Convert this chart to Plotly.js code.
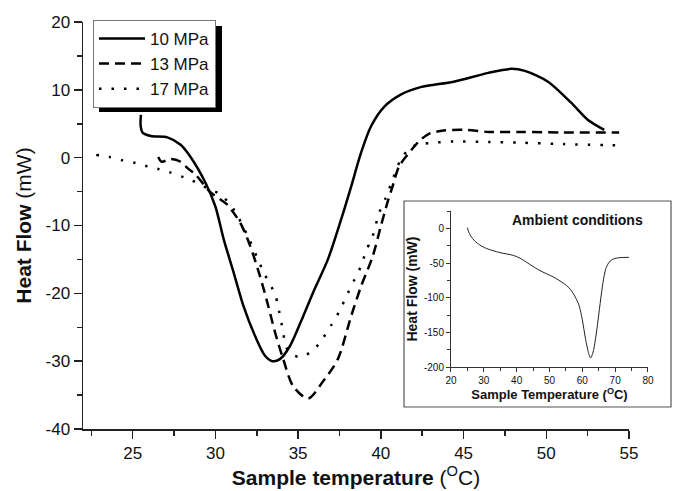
<!DOCTYPE html>
<html>
<head>
<meta charset="utf-8">
<script src="https://cdn.plot.ly/plotly-3.0.1.min.js"></script>
<style>html,body{margin:0;padding:0;background:#fff;}#chart{width:673px;height:491px;}</style>
</head>
<body>
<div id="chart"></div>
<script>
// ---- Data ----
const seriesNames = ["10 MPa", "13 MPa", "17 MPa"];

const t10 = [25.5, 25.48, 25.6, 26.1, 27.1, 27.9, 28.5, 29.4, 30.0, 30.5, 31.1, 31.7, 32.4, 33.0, 33.45, 33.9, 34.5, 35.3, 35.9, 36.8, 37.6, 38.2, 38.8, 39.4, 40.2, 41.2, 42.4, 44.4, 46.5, 47.9, 48.7, 50.1, 51.5, 52.5, 53.5];
const hf10 = [6.3, 4.8, 3.7, 3.2, 3.0, 1.9, 0.1, -3.7, -7.2, -12.0, -16.9, -21.9, -26.3, -29.2, -30.0, -29.7, -27.8, -23.4, -19.9, -15.0, -9.1, -4.3, 0.7, 4.6, 7.5, 9.3, 10.4, 11.2, 12.5, 13.1, 12.8, 11.2, 8.1, 5.6, 4.1];

const t13 = [26.55, 26.75, 27.3, 27.9, 28.3, 28.8, 29.7, 30.7, 31.5, 32.1, 32.7, 33.2, 33.6, 34.1, 34.7, 35.6, 36.5, 37.4, 38.2, 38.8, 39.5, 40.0, 40.4, 40.7, 41.1, 41.6, 42.3, 42.9, 43.8, 45.0, 46.5, 48.5, 51.0, 54.4];
const hf13 = [0.1, -0.6, -0.2, -0.6, -1.5, -2.5, -5.1, -6.9, -9.6, -13.0, -17.5, -21.9, -25.7, -29.7, -33.7, -35.5, -33.0, -29.7, -23.4, -19.0, -14.6, -10.1, -6.6, -4.3, -1.3, 0.4, 2.4, 3.5, 4.0, 4.1, 3.8, 3.8, 3.7, 3.7];

const t17 = [22.8, 23.6, 24.4, 25.2, 25.9, 26.6, 27.3, 28.1, 28.9, 29.5, 30.3, 31.1, 32.0, 32.5, 33.0, 33.6, 33.8, 34.0, 34.4, 35.1, 35.9, 36.5, 37.0, 37.5, 38.0, 38.4, 38.8, 39.1, 39.5, 39.9, 40.3, 40.6, 41.2, 41.8, 42.4, 43.2, 44.4, 46.5, 48.5, 51.0, 54.7];
const hf17 = [0.4, 0.1, -0.4, -0.8, -1.3, -1.7, -2.2, -2.9, -3.7, -4.5, -5.4, -7.6, -11.8, -14.6, -17.3, -20.1, -22.0, -24.5, -28.5, -29.4, -28.4, -26.6, -24.7, -22.6, -20.0, -18.0, -16.0, -13.8, -11.6, -8.1, -5.9, -4.0, -0.3, 1.5, 2.0, 2.2, 2.4, 2.3, 2.2, 2.0, 1.8];

// main axis tick labels (hyphen minus as in the original)
const yTickVals = [-40, -30, -20, -10, 0, 10, 20];
const yTickText = ["-40", "-30", "-20", "-10", "0", "10", "20"];

// inset: ambient conditions
const insetTitle = "Ambient conditions";
const tAmb = [25.0, 25.3, 26.0, 27.2, 28.8, 30.8, 34.9, 39.0, 41.0, 44.0, 47.1, 51.1, 54.2, 56.0, 57.5, 59.0, 60.0, 61.0, 61.8, 62.5, 63.2, 64.0, 64.8, 65.6, 66.3, 67.1, 68.0, 69.1, 71.0, 74.2];
const hfAmb = [1, -4, -11, -18, -24, -29, -35, -39, -43, -52, -61, -70, -79, -86, -96, -111, -132, -160, -178, -187, -180, -160, -132, -102, -78, -59, -50, -45, -42.5, -41.8];
const y2TickVals = [-200, -150, -100, -50, 0];
const y2TickText = ["-200", "-150", "-100", "-50", "0"];

// ---- Chart ----
const FONT = "Liberation Sans, Arial, sans-serif";
const INK = "#111";

const traces = [
  {x: t10, y: hf10, name: seriesNames[0], mode: "lines", line: {color: "#000", width: 2.5, shape: "spline", smoothing: 0.8}},
  {x: t13, y: hf13, name: seriesNames[1], mode: "lines", line: {color: "#000", width: 2.5, dash: "10px,6px", shape: "spline", smoothing: 0.8}},
  {x: t17, y: hf17, name: seriesNames[2], mode: "lines", line: {color: "#000", width: 2.5, dash: "2.5px,10px", shape: "spline", smoothing: 0.8}},
  {x: tAmb, y: hfAmb, name: insetTitle, mode: "lines", xaxis: "x2", yaxis: "y2", showlegend: false, line: {color: "#222", width: 1, shape: "spline", smoothing: 0.8}}
];

const layout = {
  width: 673, height: 491,
  margin: {l: 83, r: 20, t: 22, b: 62},
  paper_bgcolor: "#fff",
  plot_bgcolor: "rgba(0,0,0,0)",
  font: {family: FONT, color: INK},
  showlegend: true,
  legend: {
    x: 0.0175, y: 1.005, xanchor: "left", yanchor: "top",
    bgcolor: "#fff", bordercolor: "#777", borderwidth: 1,
    font: {family: FONT, size: 17, color: INK},
    itemwidth: 46,
    tracegroupgap: 0
  },
  xaxis: {
    domain: [0, 0.958], range: [22, 55], anchor: "y",
    tick0: 0, dtick: 5, ticks: "outside", ticklen: 8, tickwidth: 1.5, tickcolor: "#222",
    minor: {tick0: 0, dtick: 2.5, ticks: "outside", ticklen: 5, tickwidth: 1.5, tickcolor: "#222", showgrid: false},
    showline: true, linecolor: "#222", linewidth: 1.5, showgrid: false, zeroline: false,
    tickfont: {family: FONT, size: 17, color: INK},
    title: {text: "<b>Sample temperature</b> (<sup>O</sup>C)", font: {family: FONT, size: 21, color: INK}, standoff: 4}
  },
  yaxis: {
    domain: [0, 1], range: [-40, 20], anchor: "x",
    tickvals: yTickVals, ticktext: yTickText, ticks: "outside", ticklen: 8, tickwidth: 1.5, tickcolor: "#222",
    minor: {tick0: 0, dtick: 5, ticks: "outside", ticklen: 5, tickwidth: 1.5, tickcolor: "#222", showgrid: false},
    showline: true, linecolor: "#222", linewidth: 1.5, showgrid: false, zeroline: false,
    tickfont: {family: FONT, size: 17, color: INK},
    title: {text: "<b>Heat Flow</b> (mW)", font: {family: FONT, size: 21, color: INK}, standoff: 8}
  },
  xaxis2: {
    domain: [0.6456, 0.9912], range: [20, 80], anchor: "y2",
    tick0: 0, dtick: 10, ticks: "outside", ticklen: 4, tickwidth: 1, tickcolor: "#333",
    minor: {tick0: 0, dtick: 5, ticks: "outside", ticklen: 2.5, tickwidth: 1, tickcolor: "#333", showgrid: false},
    showline: true, linecolor: "#333", linewidth: 1, showgrid: false, zeroline: false,
    tickfont: {family: FONT, size: 10, color: INK},
    title: {text: "<b>Sample Temperature (<sup>O</sup>C)</b>", font: {family: FONT, size: 13, color: INK}, standoff: 3}
  },
  yaxis2: {
    domain: [0.1523, 0.5356], range: [-200, 25], anchor: "x2",
    tickvals: y2TickVals, ticktext: y2TickText, ticks: "outside", ticklen: 4, tickwidth: 1, tickcolor: "#333",
    minor: {tick0: 0, dtick: 25, ticks: "outside", ticklen: 2.5, tickwidth: 1, tickcolor: "#333", showgrid: false},
    showline: true, linecolor: "#333", linewidth: 1, showgrid: false, zeroline: false,
    tickfont: {family: FONT, size: 10, color: INK},
    title: {text: "<b>Heat Flow (mW)</b>", font: {family: FONT, size: 14, color: INK}, standoff: 3}
  },
  shapes: [
    {type: "rect", xref: "paper", yref: "paper", x0: 0.5632, x1: 1.0316, y0: 0.0541, y1: 0.5602,
     line: {color: "#555", width: 1.2}, fillcolor: "#fff", layer: "below"},
    {type: "rect", xref: "paper", yref: "paper", x0: 0.0281, x1: 0.2439, y0: 0.7789, y1: 0.9902,
     line: {width: 0}, fillcolor: "#000", layer: "above"}
  ],
  annotations: [
    {text: "<b>" + insetTitle + "</b>", xref: "paper", yref: "paper", x: 0.8667, y: 0.5135,
     xanchor: "center", yanchor: "middle", showarrow: false, font: {family: FONT, size: 14, color: INK}}
  ]
};

Plotly.newPlot("chart", traces, layout, {staticPlot: true, displayModeBar: false});
</script>
</body>
</html>
